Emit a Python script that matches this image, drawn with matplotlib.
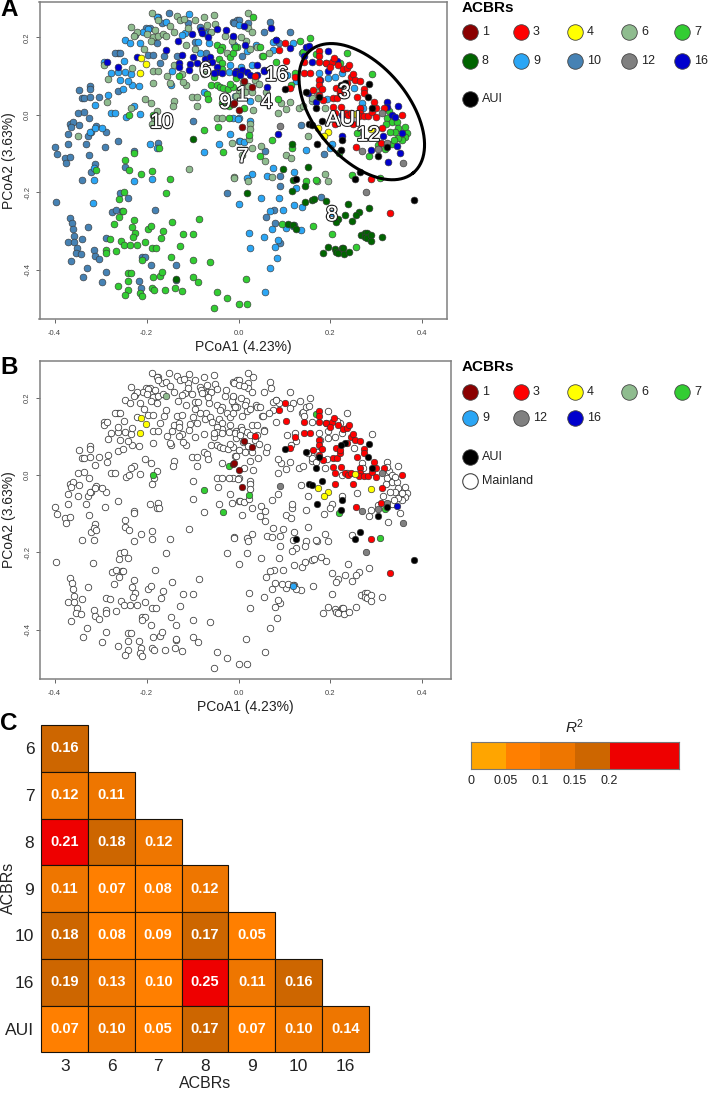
import matplotlib
matplotlib.use("Agg")
import matplotlib.pyplot as plt
from matplotlib.colors import ListedColormap, BoundaryNorm
from matplotlib.patches import Rectangle
import matplotlib.patheffects as pe
import numpy as np

plt.rcParams['font.family'] = ['Liberation Sans', 'DejaVu Sans']
plt.rcParams['mathtext.fontset'] = 'custom'
plt.rcParams['mathtext.it'] = 'Liberation Sans:italic'
plt.rcParams['mathtext.rm'] = 'Liberation Sans'

W, H = 708, 1093

# points, per region
acbr10 = [(-0.400,-0.082),(-0.395,-0.101),(-0.378,-0.111),(-0.375,-0.123),(-0.366,-0.108),(-0.370,-0.076),(-0.371,-0.049),
 (-0.367,-0.023),(-0.359,-0.018),(-0.364,-0.030),(-0.347,-0.027),(-0.348,0.004),(-0.337,0.009),(-0.324,-0.008),(-0.347,0.065),
 (-0.322,0.076),(-0.322,0.066),(-0.341,0.044),(-0.336,0.045),(-0.322,0.047),(-0.304,0.046),(-0.327,-0.053),(-0.321,-0.043),
 (-0.332,-0.075),(-0.309,-0.028),(-0.289,-0.045),(-0.291,-0.082),(-0.325,-0.102),(-0.262,-0.068),(-0.340,-0.168),(-0.320,-0.147),
 (-0.313,-0.126),(-0.246,-0.133),(-0.262,0.062),(-0.396,-0.225),(-0.366,-0.267),(-0.363,-0.280),(-0.359,-0.294),(-0.357,-0.312),
 (-0.371,-0.328),(-0.358,-0.329),(-0.340,-0.319),(-0.328,-0.290),(-0.352,-0.344),(-0.353,-0.355),(-0.343,-0.359),(-0.365,-0.377),
 (-0.314,-0.349),(-0.312,-0.364),(-0.304,-0.372),(-0.330,-0.395),(-0.338,-0.417),(-0.288,-0.404),(-0.297,-0.430),(-0.288,-0.318),
 (-0.275,-0.250),(-0.267,-0.245),(-0.253,-0.247),(-0.181,-0.246),(-0.257,-0.202),(-0.241,-0.214),(-0.217,-0.428),(-0.212,-0.447),
 (-0.210,-0.366),(-0.204,-0.367),(-0.191,-0.386),(-0.135,-0.386),(-0.136,-0.426),(-0.174,-0.071),(-0.227,-0.093),(-0.099,-0.015),
 (-0.024,-0.201),(-0.263,0.159),(-0.268,0.159),(-0.257,0.161),(-0.225,0.207),(-0.202,0.224),(-0.192,0.224),(-0.174,0.252),
 (-0.151,0.262),(-0.167,0.237),(-0.185,0.194),(-0.178,0.185),(-0.196,0.155),(-0.185,0.155),(-0.163,0.151),(-0.170,0.133),
 (-0.109,0.238),(-0.083,0.228),(-0.069,0.215),(-0.011,0.241),(-0.004,0.245),(-0.094,0.189),(-0.070,0.159),(-0.134,0.151),
 (0.001,0.245),(-0.010,0.238),(0.020,0.237),(0.068,0.241),(0.056,0.213),(0.112,0.215),(0.082,0.194),(0.087,0.185),(0.060,-0.262),
 (0.078,-0.245),(0.079,-0.278),(0.090,-0.157),(0.090,-0.183),(0.186,-0.101),(0.179,-0.211),(0.121,-0.284),(0.090,-0.331),
 (0.136,-0.026),(0.058,-0.093),(0.007,0.151)]

acbr9 = [(-0.283,0.052),(-0.312,0.025),(-0.277,0.005),(-0.269,0.005),(-0.244,-0.004),(-0.227,0.024),(-0.214,0.002),(-0.322,-0.043),
 (-0.312,-0.034),(-0.296,-0.034),(-0.314,-0.136),(-0.314,-0.168),(-0.317,-0.227),(-0.193,-0.076),(-0.188,-0.165),(-0.227,-0.170),
 (-0.178,-0.085),(-0.075,-0.096),(-0.042,-0.076),(-0.018,-0.050),(0.0,-0.230),(0.0,-0.009),(-0.011,-0.009),(0.0,-0.066),
 (-0.292,0.136),(-0.277,0.109),(-0.261,0.110),(-0.246,0.112),(-0.234,0.106),(-0.217,0.075),(-0.232,0.078),(-0.241,0.088),
 (-0.251,0.067),(-0.257,0.090),(-0.249,0.140),(-0.246,0.194),(-0.236,0.187),(-0.214,0.185),(-0.207,0.213),(-0.196,0.221),
 (-0.178,0.252),(-0.158,0.241),(-0.108,0.261),(-0.116,0.211),(-0.123,0.207),(-0.087,0.189),(-0.076,0.211),(-0.065,0.185),
 (-0.083,0.159),(-0.145,0.114),(-0.146,0.077),(-0.075,0.060),(-0.007,0.049),(-0.018,0.129),(-0.011,0.202),(0.0,0.232),
 (0.049,-0.213),(0.088,-0.213),(0.069,-0.248),(0.097,-0.244),(0.121,-0.232),(0.139,-0.238),(0.075,-0.138),(0.061,-0.157),
 (0.029,-0.151),(0.018,-0.162),(0.121,-0.148),(0.126,-0.188),(0.073,-0.294),(0.022,-0.304),(0.055,-0.314),(0.024,-0.343),
 (0.079,-0.341),(0.085,-0.323),(0.083,-0.368),(0.068,-0.396),(0.057,-0.456),(0.003,-0.067),(0.012,-0.069),(0.025,0.037),
 (0.026,-0.015),(-0.002,-0.010),(0.203,-0.075),(0.147,-0.090),(0.119,0.185),(0.076,0.189),(0.039,0.181),(0.018,0.164),
 (-0.010,0.181),(0.126,0.088),(0.105,0.103),(0.174,0.108),(0.195,0.095),(0.192,0.040),(0.210,0.097),(0.225,0.108),(0.252,0.070),
 (0.268,0.030),(0.271,0.017),(0.235,0.004),(0.076,0.168),(0.137,0.159),(0.199,-0.086),(0.203,-0.254),(0.135,-0.297),(0.103,-0.291),
 (0.005,0.125),(0.030,0.130),(-0.020,0.110)]
acbr9_island = [(0.119,-0.287)]

acbr6 = [(-0.188,0.262),(-0.234,0.228),(-0.174,0.245),(-0.134,0.256),(-0.127,0.245),(-0.118,0.248),(-0.076,0.252),(-0.054,0.258),
 (-0.051,0.235),(-0.069,0.232),(-0.181,0.219),(-0.186,0.202),(-0.221,0.215),(-0.228,0.204),(-0.293,0.129),(-0.283,0.093),
 (-0.232,0.120),(-0.187,0.082),(-0.186,0.114),(-0.176,0.114),(-0.141,0.037),(-0.143,0.023),(-0.204,0.040),(-0.191,0.032),
 (-0.286,0.033),(-0.234,0.019),(-0.178,0.011),(-0.183,-0.009),(-0.189,-0.023),(-0.349,-0.055),(-0.108,-0.139),(-0.101,0.047),
 (-0.091,0.047),(-0.091,0.023),(-0.046,-0.007),(-0.036,-0.009),(-0.015,-0.071),(-0.009,-0.161),(-0.094,0.099),(-0.114,0.078),
 (-0.150,0.083),(-0.123,0.106),(0.020,0.264),(0.021,0.224),(0.016,0.192),(0.026,0.170),(0.041,0.176),(0.052,0.151),(0.067,0.161),
 (0.031,0.013),(0.043,0.043),(0.060,0.060),(0.085,0.006),(0.092,0.030),(0.104,0.015),(0.113,0.034),(0.132,0.017),(0.141,0.022),
 (0.159,0.037),(0.189,0.019),(0.190,0.133),(0.171,0.060),(0.026,-0.022),(0.025,-0.036),(0.023,-0.063),(0.007,-0.103),
 (0.029,-0.086),(0.048,-0.079),(0.058,-0.118),(0.103,-0.102),(0.150,-0.053),(0.114,-0.112),(0.072,-0.159),(-0.010,-0.162),
 (0.020,-0.170),(0.188,-0.151),(0.195,-0.171),(0.170,-0.170),(0.159,0.043),
 (-0.200,0.210),(-0.190,0.190),(-0.175,0.205),(-0.205,0.170),(-0.165,0.210),(-0.150,0.230),(-0.140,0.215),(-0.110,0.225),(-0.095,0.245),
 (-0.060,0.215),(-0.030,0.205),(-0.025,0.160),(-0.015,0.190),(0.005,0.200),(0.030,0.215),(-0.095,0.170),(-0.115,0.180),(-0.140,0.130),
 (-0.155,0.100),(-0.120,0.085),(-0.075,0.105),(0.010,0.085),(0.020,0.075),(0.015,0.060),(0.035,0.090),(0.000,0.065),(-0.005,0.050),
 (0.030,0.060),(0.045,0.080)]
acbr6_island = [(-0.158,0.204)]

acbr7 = [(-0.238,0.0),(-0.246,-0.116),(-0.239,-0.142),(-0.228,-0.097),(-0.212,-0.152),(-0.188,-0.145),(-0.149,-0.164),(-0.157,-0.202),
 (-0.045,-0.030),(-0.310,-0.143),(-0.173,-0.086),(-0.249,-0.199),(-0.259,-0.217),(-0.251,-0.247),(-0.260,-0.262),(-0.270,-0.281),
 (-0.227,-0.271),(-0.231,-0.288),(-0.225,-0.304),(-0.230,-0.314),(-0.197,-0.293),(-0.191,-0.287),(-0.164,-0.300),(-0.169,-0.317),
 (-0.204,-0.327),(-0.279,-0.321),(-0.256,-0.325),(-0.250,-0.336),(-0.237,-0.335),(-0.220,-0.336),(-0.266,-0.352),(-0.288,-0.349),
 (-0.288,-0.355),(-0.188,-0.343),(-0.180,-0.343),(-0.210,-0.373),(-0.145,-0.275),(-0.086,-0.269),(-0.120,-0.308),(-0.099,-0.308),
 (-0.128,-0.337),(-0.146,-0.367),(-0.098,-0.373),(-0.062,-0.380),(-0.241,-0.409),(-0.234,-0.409),(-0.241,-0.428),(-0.187,-0.419),
 (-0.170,-0.416),(-0.167,-0.405),(-0.262,-0.441),(-0.241,-0.452),(-0.246,-0.465),(-0.215,-0.460),(-0.210,-0.466),(-0.188,-0.446),
 (-0.183,-0.452),(-0.159,-0.452),(-0.138,-0.447),(-0.123,-0.455),(-0.098,-0.419),(-0.089,-0.431),(-0.046,-0.458),(-0.025,-0.472),
 (-0.054,-0.497),(0.001,-0.489),(-0.047,0.181),(-0.036,0.175),(-0.040,0.168),(-0.043,0.144),(-0.036,0.133),(-0.036,0.118),
 (-0.054,0.099),(-0.060,0.077),(-0.047,0.077),(-0.040,0.071),(-0.033,0.069),(-0.022,0.066),(-0.013,0.071),(-0.005,0.095),
 (-0.018,0.149),(-0.011,0.159),(-0.004,0.176),(-0.069,0.053),(-0.067,0.040),(-0.129,0.101),(-0.018,0.079),(-0.036,0.030),
 (-0.021,-0.009),(0.032,0.254),(-0.008,0.176),(0.047,0.176),(0.054,0.152),(0.081,0.136),(0.134,0.191),(0.155,0.198),(0.141,0.163),
 (0.221,0.135),(0.235,0.159),(0.291,0.106),(0.123,0.109),(0.114,0.077),(0.085,0.041),(0.072,-0.065),(0.047,-0.105),(0.116,-0.086),
 (0.147,-0.170),(0.168,-0.168),(0.204,-0.308),(0.255,-0.340),(0.016,-0.424),(0.018,-0.487),(0.246,-0.155),(0.284,-0.105),
 (0.257,-0.046),(0.094,-0.281),(0.163,-0.286),(0.011,0.017),(0.328,0.010),(0.322,-0.009),(0.333,-0.019),(0.344,-0.017),
 (0.347,-0.033),(0.362,-0.030),(0.367,-0.047),(0.362,-0.056),(0.355,-0.065),(0.347,-0.060),(0.340,-0.043),(0.329,-0.043),
 (0.333,-0.075),(0.337,-0.065),(0.320,-0.022),(0.304,-0.077)]
acbr7_island = [(-0.186,0.0),(-0.076,-0.039),(-0.033,-0.096),(-0.020,0.024),(0.023,-0.052),(0.168,0.158),(0.219,-0.097),(0.319,-0.089),(0.307,-0.162)]

acbr8 = [(-0.098,-0.062),(-0.136,-0.424),(0.019,-0.201),(0.097,-0.139),(0.150,-0.135),(0.118,-0.168),(0.116,-0.196),(0.144,-0.182),
 (0.145,-0.224),(0.159,-0.219),(0.165,-0.217),(0.190,-0.222),(0.239,-0.230),(0.284,-0.241),(0.261,-0.251),(0.255,-0.258),(0.231,-0.258),
 (0.246,-0.273),(0.217,-0.268),(0.212,-0.277),(0.184,-0.355),(0.195,-0.340),(0.210,-0.347),(0.212,-0.353),(0.217,-0.357),(0.224,-0.344),
 (0.228,-0.343),(0.230,-0.359),(0.241,-0.353),(0.266,-0.310),(0.275,-0.305),(0.280,-0.305),(0.275,-0.316),(0.280,-0.318),(0.289,-0.310),
 (0.289,-0.325),(0.311,-0.316),(0.108,-0.281),(0.119,-0.284),(0.125,-0.295),(0.116,-0.075)]

acbr16 = [(-0.261,0.125),(-0.285,0.137),(-0.221,0.149),(-0.157,0.167),(-0.132,0.192),(-0.101,0.209),(-0.081,0.219),(-0.080,0.211),
 (-0.047,0.222),(-0.067,0.201),(-0.027,0.219),(-0.013,0.204),(-0.123,0.155),(-0.130,0.133),(-0.129,0.125),(-0.105,0.132),(-0.107,0.116),
 (-0.098,0.149),(-0.091,0.133),(-0.072,0.144),(-0.063,0.149),(-0.058,0.138),(-0.047,0.125),(-0.047,0.112),(-0.054,0.108),(-0.036,0.109),
 (-0.005,0.114),(-0.007,0.108),(0.004,0.112),(0.007,0.116),(0.003,0.103),(0.018,0.110),(0.025,0.103),(0.041,0.103),(0.056,0.116),
 (0.014,0.181),(0.041,0.129),(0.011,0.230),(0.071,0.224),(0.081,0.194),(0.112,0.172),(0.142,0.152),(0.147,0.176),(0.154,0.179),
 (0.159,0.138),(0.195,0.166),(0.215,0.139),(0.056,0.114),(0.063,0.071),(0.152,0.056),(0.194,0.114),(0.168,0.034),(0.177,0.090),
 (0.085,-0.050),(0.224,-0.054),(0.322,0.034),(0.322,0.020),(0.346,0.022),(0.333,0.0),(0.340,-0.004),(0.355,-0.047),(0.315,-0.054),
 (0.351,-0.099),(0.324,-0.122),(0.289,-0.090),(0.224,0.0)]
acbr16_island = [(0.344,-0.079)]

acbr3 = [(0.101,0.187),(0.089,0.168),(0.103,0.140),(0.142,0.138),(0.176,0.164),(0.176,0.151),(0.176,0.138),(0.190,0.135),(0.204,0.136),
 (0.207,0.146),(0.217,0.129),(0.228,0.118),(0.235,0.120),(0.241,0.129),(0.245,0.099),(0.250,0.106),(0.253,0.090),(0.264,0.088),
 (0.273,0.066),(0.273,0.056),(0.235,0.082),(0.213,0.069),(0.176,0.090),(0.176,0.077),(0.161,0.065),(0.143,0.108),(0.155,0.108),
 (0.123,0.097),(0.112,0.069),(0.036,0.101),(0.206,0.045),(0.215,0.045),(0.221,0.056),(0.206,0.020),(0.210,0.004),(0.222,0.020),
 (0.232,0.006),(0.239,0.0),(0.244,0.004),(0.264,0.017),(0.264,0.004),(0.263,-0.003),(0.257,0.046),(0.273,-0.002),(0.282,-0.003),
 (0.291,0.009),(0.300,0.017),(0.300,-0.004),(0.295,0.034),(0.311,-0.034),(0.316,0.017),(0.309,-0.073),(0.255,-0.082),(0.355,0.0),
 (0.210,-0.022),(0.250,-0.024),(0.287,-0.166),(0.330,-0.254),(0.184,0.039),(0.181,0.067),(0.199,0.125),(0.221,0.065),(0.174,0.052)]
acbr1 = [(-0.011,0.028),(0.0,0.013),(0.012,0.088),(0.029,0.071),(0.008,-0.030),(-0.010,0.030)]
acbr4 = [(-0.211,0.146),(-0.202,0.132),(-0.215,0.108),(0.173,-0.034),(0.195,-0.045),(0.186,-0.053),(0.253,0.002),(0.289,-0.037)]
acbr12 = [(0.090,-0.028),(0.313,0.004),(0.322,-0.073),(0.304,-0.089),(0.268,-0.092),(0.358,-0.124),(0.277,-0.198)]
aui = [(0.100,0.066),(0.231,0.083),(0.223,0.077),(0.284,0.080),(0.281,0.047),(0.168,0.019),(0.174,0.047),(0.147,0.060),(0.181,-0.015),
 (0.153,-0.023),(0.159,-0.026),(0.171,-0.076),(0.223,-0.090),(0.225,-0.065),(0.304,-0.106),(0.322,-0.082),(0.124,-0.164),(0.254,-0.165),
 (0.264,-0.146),(0.382,-0.219),(0.291,0.017)]

colors = {"1":"#8B0000","3":"#FF0000","4":"#FFFF00","6":"#8FBC8F","7":"#32CD32","8":"#006400","9":"#2BA6F5",
          "10":"#4682B4","12":"#808080","16":"#0000CD","AUI":"#000000"}

label_names = ["10","6","9","1","4","16","7","8","3","AUI","12"]
label_x = [-0.167,-0.072,-0.029,0.008,0.061,0.083,0.009,0.203,0.230,0.228,0.282]
label_y = [-0.019,0.114,0.032,0.052,0.032,0.103,-0.108,-0.258,0.058,-0.013,-0.052]

ellipse_center = (0.268,0.0086)
ellipse_major = (0.112,-0.158)
ellipse_minor = (0.078,0.077)

row_names = ["6","7","8","9","10","16","AUI"]
col_names = ["3","6","7","8","9","10","16"]
nan = np.nan
r2 = np.array([
 [0.16,nan,nan,nan,nan,nan,nan],
 [0.12,0.11,nan,nan,nan,nan,nan],
 [0.21,0.18,0.12,nan,nan,nan,nan],
 [0.11,0.07,0.08,0.12,nan,nan,nan],
 [0.18,0.08,0.09,0.17,0.052,nan,nan],
 [0.19,0.13,0.098,0.25,0.11,0.16,nan],
 [0.07,0.104,0.052,0.17,0.07,0.104,0.14]])
r2_bounds = [0,0.05,0.1,0.15,0.2,0.3]
r2_colors = ["#FFA500","#FF7F00","#EE7600","#CD6600","#EE0000"]
r2_ticks = [0,0.05,0.1,0.15,0.2]


def px_axes(fig, left, right, top, bottom):
    return fig.add_axes([left/W, 1-bottom/H, (right-left)/W, (bottom-top)/H])


def xy(points):
    a = np.array(points)
    return a[:, 0], a[:, 1]


def style_pcoa(ax, xlim, ylim):
    ax.set_xlim(xlim)
    ax.set_ylim(ylim)
    ax.set_xticks([-0.4,-0.2,0.0,0.2,0.4])
    ax.set_xticklabels(["-0.4","-0.2","0.0","0.2","0.4"])
    ax.set_yticks([-0.4,-0.2,0.0,0.2])
    ax.set_yticklabels(["-0.4","-0.2","0.0","0.2"], rotation=90, va="center")
    ax.tick_params(length=3, width=0.7, color="#666666", labelcolor="#444444", labelsize=5.5)
    ax.tick_params(axis="x", pad=5)
    ax.tick_params(axis="y", pad=3)
    for s in ax.spines.values():
        s.set_color("#808080")
        s.set_linewidth(1.1)
    ax.set_xlabel("PCoA1 (4.23%)", fontsize=10, labelpad=2, color="#222222")
    ax.set_ylabel("PCoA2 (3.63%)", fontsize=10, labelpad=6, color="#222222")


fig = plt.figure(figsize=(W/100, H/100), dpi=100)

# panel A
ax_a = px_axes(fig, 39.5, 447, 1.5, 319)
groups_a = [("10",acbr10),("9",acbr9+acbr9_island),("6",acbr6+acbr6_island),("7",acbr7),("8",acbr8),("16",acbr16+acbr16_island),
            ("7",acbr7_island),("3",acbr3),("1",acbr1),("4",acbr4),("12",acbr12),("AUI",aui)]
for name, pts in groups_a:
    x, y = xy(pts)
    ax_a.scatter(x, y, s=24, c=colors[name], edgecolors="#3a3a3a", linewidths=0.45, zorder=3)
style_pcoa(ax_a, (-0.4327,0.4533), (-0.5265,0.2929))
t = np.linspace(0, 2*np.pi, 200)
ax_a.plot(ellipse_center[0]+ellipse_major[0]*np.cos(t)+ellipse_minor[0]*np.sin(t),
          ellipse_center[1]+ellipse_major[1]*np.cos(t)+ellipse_minor[1]*np.sin(t), color="black", lw=2.2, zorder=4)
for name, lx, ly in zip(label_names, label_x, label_y):
    ax_a.text(lx, ly, name, fontsize=15, color="white", ha="center", va="center", zorder=5,
              path_effects=[pe.withStroke(linewidth=1.8, foreground="#222222"), pe.Normal()])

# panel B
ax_b = px_axes(fig, 39.5, 451, 361, 679)
all_main = acbr10+acbr9+acbr6+acbr7+acbr8+acbr16
x, y = xy(all_main)
ax_b.scatter(x, y, s=22, c="white", edgecolors="#333333", linewidths=0.55, zorder=2)
groups_b = [("9",acbr9_island),("6",acbr6_island),("7",acbr7_island),("16",acbr16_island),("3",acbr3),("1",acbr1),("4",acbr4),("12",acbr12),("AUI",aui)]
for name, pts in groups_b:
    x, y = xy(pts)
    ax_b.scatter(x, y, s=22, c=colors[name], edgecolors="#333333", linewidths=0.45, zorder=3)
style_pcoa(ax_b, (-0.4327,0.4620), (-0.5265,0.2942))

# panel C
ax_c = px_axes(fig, 41.3, 368.7, 725, 1052.3)
cmap = ListedColormap(r2_colors)
norm = BoundaryNorm(r2_bounds, cmap.N)
ax_c.set_xlim(0, 7)
ax_c.set_ylim(7, 0)
ax_c.set_xticks(np.arange(7)+0.5)
ax_c.set_xticklabels(col_names)
ax_c.set_yticks(np.arange(7)+0.5)
ax_c.set_yticklabels(row_names)
ax_c.tick_params(length=0, labelsize=12.5, pad=5, labelcolor="#222222")
for s in ax_c.spines.values():
    s.set_visible(False)
ax_c.patch.set_visible(False)
for i in range(7):
    for j in range(7):
        if not np.isnan(r2[i, j]):
            ax_c.add_patch(Rectangle((j, i), 1, 1, facecolor=cmap(norm(r2[i, j])), edgecolor="#1a1208", linewidth=0.8, clip_on=False))
            ax_c.text(j+0.5, i+0.5, "%.2f" % r2[i, j], color="white", fontweight="bold", fontsize=10.5, ha="center", va="center")

# colour key
ax_key = px_axes(fig, 471, 679, 742, 769)
ax_key.pcolormesh(r2_bounds, [0, 1], np.array([[0.02,0.07,0.12,0.17,0.25]]), cmap=cmap, norm=norm)
ax_key.set_xlim(0, 0.3)
ax_key.set_yticks([])
ax_key.set_xticks(r2_ticks)
ax_key.set_xticklabels(["0","0.05","0.1","0.15","0.2"])
ax_key.tick_params(length=0, labelsize=9, pad=4, labelcolor="#222222")
for s in ax_key.spines.values():
    s.set_color("#777777")
    s.set_linewidth(0.8)

# overlay in picture pixels for the legends and panel letters
ov = fig.add_axes([0, 0, 1, 1], facecolor="none")
ov.set_xlim(0, W)
ov.set_ylim(H, 0)
ov.axis("off")

legend_cols = [470, 521, 575, 629, 682]
for name, cx, cy in zip(["1","3","4","6","7","8","9","10","12","16","AUI"], legend_cols*2+[470], [32]*5+[61]*5+[99]):
    ov.scatter([cx], [cy], s=125, c=colors[name], edgecolors="#444444", linewidths=0.6)
    ov.text(cx+12, cy, name, fontsize=9, va="center", ha="left", color="#222222")
ov.text(462, 8, "ACBRs", fontsize=11, fontweight="bold", va="center", ha="left")

for name, cx, cy in zip(["1","3","4","6","7","9","12","16","AUI"], legend_cols+legend_cols[:3]+[470], [392]*5+[418]*3+[457]):
    ov.scatter([cx], [cy], s=125, c=colors[name], edgecolors="#444444", linewidths=0.6)
    ov.text(cx+12, cy, name, fontsize=9, va="center", ha="left", color="#222222")
ov.scatter([470], [481], s=125, c="white", edgecolors="#444444", linewidths=0.8)
ov.text(482, 481, "Mainland", fontsize=9, va="center", ha="left", color="#222222")
ov.text(462, 367, "ACBRs", fontsize=11, fontweight="bold", va="center", ha="left")

ov.text(0, 10, "A", fontsize=17.5, fontweight="bold", va="center", ha="left")
ov.text(0, 367, "B", fontsize=17.5, fontweight="bold", va="center", ha="left")
ov.text(0, 723, "C", fontsize=17.5, fontweight="bold", va="center", ha="left")

ov.text(8, 888, "ACBRs", fontsize=11.5, rotation=90, va="center", ha="center", color="#222222")
ov.text(205, 1084, "ACBRs", fontsize=11.5, va="center", ha="center", color="#222222")
ov.text(575, 727, "$\\mathit{R}^2$", fontsize=11, va="center", ha="center", color="#222222")

fig.savefig("out.png", dpi=100)
